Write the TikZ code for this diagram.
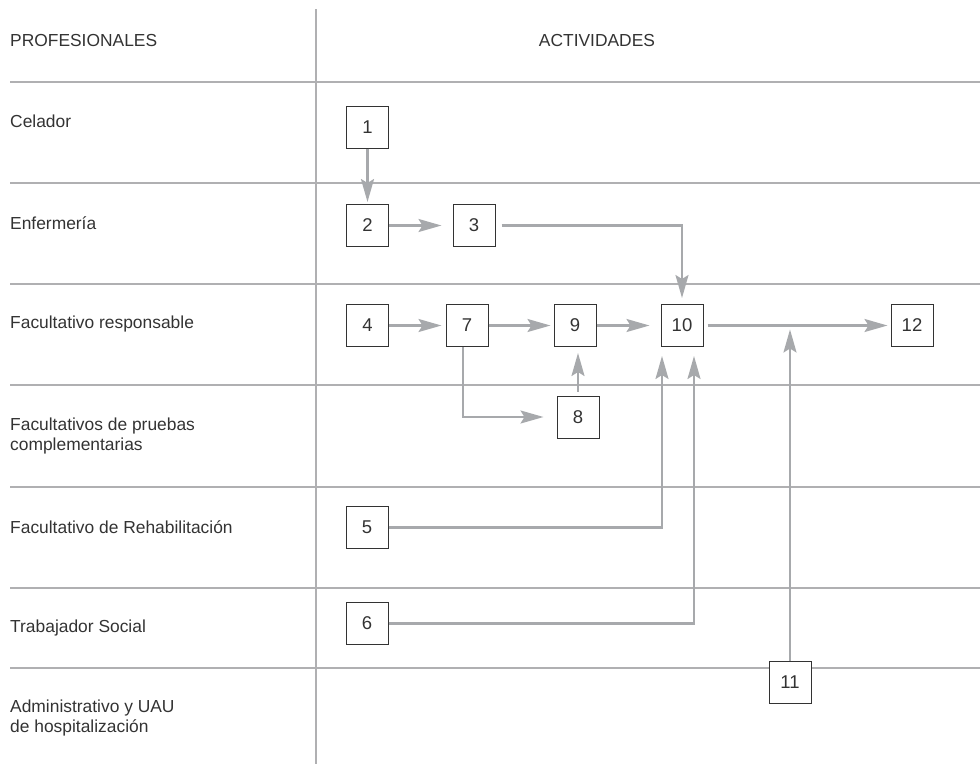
\documentclass[tikz,border=0pt]{standalone}
\usepackage{fontspec}
\setmainfont{Liberation Sans}
\usetikzlibrary{arrows.meta}
\definecolor{gridc}{HTML}{B0B0B2}
\definecolor{arrc}{HTML}{A7A9AC}
\definecolor{txtc}{HTML}{333333}
\tikzset{
  grid/.style={draw=gridc, line width=1.3pt},
  actbox/.style={draw=txtc, line width=1pt, fill=white, minimum width=42pt, minimum height=42pt, inner sep=0pt, text=txtc, font=\fontsize{18.5}{20}\selectfont},
  lbl/.style={anchor=west, align=left, text=txtc, inner sep=0pt, font=\fontsize{17.4}{19.5}\selectfont},
  flow/.style={draw=arrc, line width=2.2pt, -{Stealth[length=23pt, width=13pt, inset=4pt]}}
}
\begin{document}
\begin{tikzpicture}[x=1pt, y=-1pt]
\useasboundingbox (0,0) rectangle (980,764);
% grid
\coordinate (vtop) at (316,9);
\coordinate (vbot) at (316,764);
\draw[grid] (vtop) -- (vbot);
\foreach \yy in {82,183,284,385,487,588,668} {
  \draw[grid] (10,\yy) -- (980,\yy);
}
% headers and labels
\node[lbl] (hprof) at (10,41) {PROFESIONALES};
\node[text=txtc, inner sep=0pt, font=\fontsize{17.4}{19.5}\selectfont] (hact) at (597,41) {ACTIVIDADES};
\node[lbl] (l1) at (10,121) {Celador};
\node[lbl] (l2) at (10,223) {Enfermería};
\node[lbl] (l3) at (10,324) {Facultativo responsable};
\node[lbl] (l4) at (10,436) {Facultativos de pruebas\\complementarias};
\node[lbl] (l5) at (10,527) {Facultativo de Rehabilitación};
\node[lbl] (l6) at (10,628) {Trabajador Social};
\node[lbl] (l7) at (10,718) {Administrativo y UAU\\de hospitalización};
% boxes
\node[actbox] (n1) at (367.5,127) {1};
\node[actbox] (n2) at (367.5,225.5) {2};
\node[actbox] (n3) at (474,225.5) {3};
\node[actbox] (n4) at (367.5,325.5) {4};
\node[actbox] (n7) at (467,325.5) {7};
\node[actbox] (n9) at (575,325.5) {9};
\node[actbox] (n10) at (682,325.5) {10};
\node[actbox] (n12) at (912,325.5) {12};
\node[actbox] (n8) at (578,417) {8};
\node[actbox] (n5) at (367,527.5) {5};
\node[actbox] (n6) at (367,623.5) {6};
\node[actbox] (n11) at (790,682.5) {11};
% connectors
\draw[flow, shorten >=2pt] (n1.south) -- (n2.north);
\draw[flow, shorten >=11pt] (n2.east) -- (n3.west);
\draw[flow, shorten <=6pt, shorten >=6pt] (n3.east) -| (n10.north);
\draw[flow, shorten >=4pt] (n4.east) -- (n7.west);
\draw[flow, shorten >=3pt] (n7.east) -- (n9.west);
\draw[flow, shorten >=11pt] (n9.east) -- (n10.west);
\draw[flow, shorten <=4pt, shorten >=3pt] (n10.east) -- (n12.west);
\draw[flow, shorten >=13pt] ([xshift=-4pt]n7.south) |- (n8.west);
\draw[flow, shorten <=4pt, shorten >=6pt] (n8.north) -- (n8.north |- n9.south);
\draw[flow, shorten >=9pt] (n5.east) -| ([xshift=-20pt]n10.south);
\draw[flow, shorten >=9pt] (n6.east) -| ([xshift=12pt]n10.south);
\coordinate (j11) at (n11 |- n10);
\draw[flow, shorten >=4pt] (n11.north) -- (j11);
\end{tikzpicture}
\end{document}
